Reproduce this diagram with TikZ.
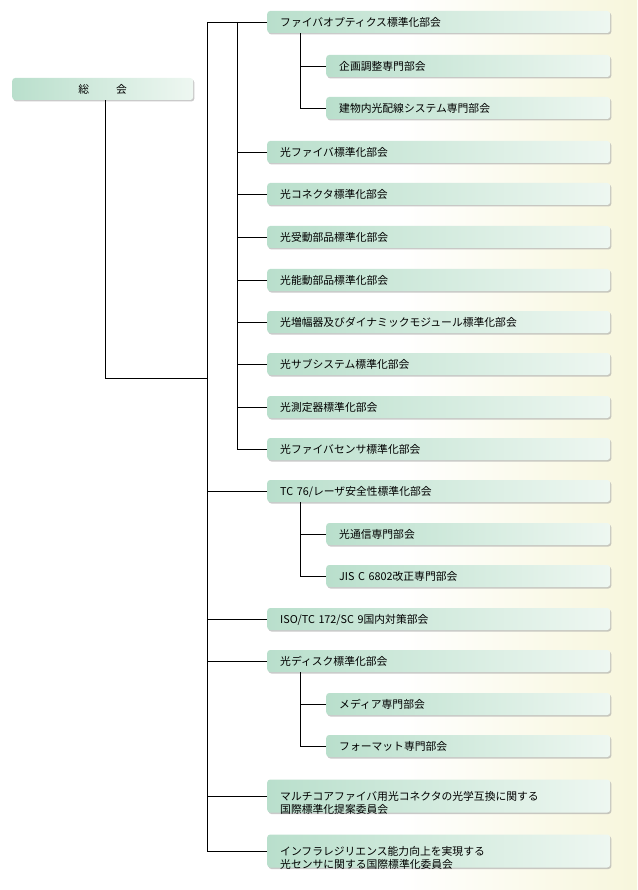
\documentclass[tikz,border=0pt]{standalone}
\usepackage{fontspec}
\setmainfont{Noto Sans CJK JP}
\usetikzlibrary{shadows}
\definecolor{bxA}{HTML}{B9DFCC}
\definecolor{bxB}{HTML}{EEF7F1}
\definecolor{bgR}{HTML}{F7F6DC}
\tikzset{
 bx/.style={rounded corners=3pt, left color=bxA, right color=bxB, draw=none,
   drop shadow={shadow xshift=1.2pt,shadow yshift=-1.5pt,fill=black!35,opacity=.6},
   anchor=west, minimum height=22pt, inner sep=0pt, text depth=0pt,
   font=\fontsize{10.8}{13}\selectfont, align=left},
 lv1/.style={bx, minimum width=343pt, text width=333pt},
 lv2/.style={bx, minimum width=284pt, text width=274pt},
 ln/.style={line width=0.8pt}
}
\begin{document}
\begin{tikzpicture}[x=1pt,y=-1pt]
\useasboundingbox (0,0) rectangle (637,890);
\shade[left color=white, right color=bgR] (400,0) rectangle (637,890);
\node[bx, minimum width=181pt, text width=181pt, align=center] (sk) at (12,89) {総\hspace{2.5em}会};
\foreach \n/\y/\t in {a/22/ファイバオプティクス標準化部会, b/152/光ファイバ標準化部会, c/194/光コネクタ標準化部会, d/237/光受動部品標準化部会, e/280/光能動部品標準化部会, f/322/光増幅器及びダイナミックモジュール標準化部会, g/364/光サブシステム標準化部会, h/407/光測定器標準化部会, i/449/光ファイバセンサ標準化部会, l/661/光ディスク標準化部会}
  \node[lv1] (\n) at (267,\y) {\hspace{8pt}\t};
\node[lv1] (j) at (267,491) {\hspace{8pt}TC 76/レーザ安全性標準化部会};
\node[lv1] (k) at (267,619) {\hspace{8pt}ISO/TC 172/SC 9国内対策部会};
\node[lv1, minimum height=33pt] (m) at (267,796) {\hspace{8pt}マルチコアファイバ用光コネクタの光学互換に関する\\\hspace{8pt}国際標準化提案委員会};
\node[lv1, minimum height=33pt] (n) at (267,851) {\hspace{8pt}インフラレジリエンス能力向上を実現する\\\hspace{8pt}光センサに関する国際標準化委員会};
\foreach \n/\y/\t in {a1/66/企画調整専門部会, a2/108/建物内光配線システム専門部会, j1/534/光通信専門部会, j2/576/JIS C 6802改正専門部会, l1/704/メディア専門部会, l2/746/フォーマット専門部会}
  \node[lv2] (\n) at (326,\y) {\hspace{8pt}\t};
\coordinate (t0) at (207,378);
\coordinate (tA) at (207,22);
\coordinate (tB) at (207,851);
\draw[ln] (sk.south -| 105,0) |- (t0);
\draw[ln] (tA) -- (tB);
\draw[ln] (tA) -- (a.west);
\draw[ln] (237,22) -- (237,449);
\foreach \n in {b,c,d,e,f,g,h,i} \draw[ln] (\n.west) -- (\n.west -| 237,0);
\foreach \n in {j,k,l,m,n} \draw[ln] (\n.west) -- (\n.west -| 207,0);
\foreach \p in {a,j,l} {
  \draw[ln] (\p.south -| 300,0) -- (\p2.west -| 300,0) -- (\p2.west);
  \draw[ln] (\p1.west -| 300,0) -- (\p1.west);
}
\end{tikzpicture}
\end{document}
